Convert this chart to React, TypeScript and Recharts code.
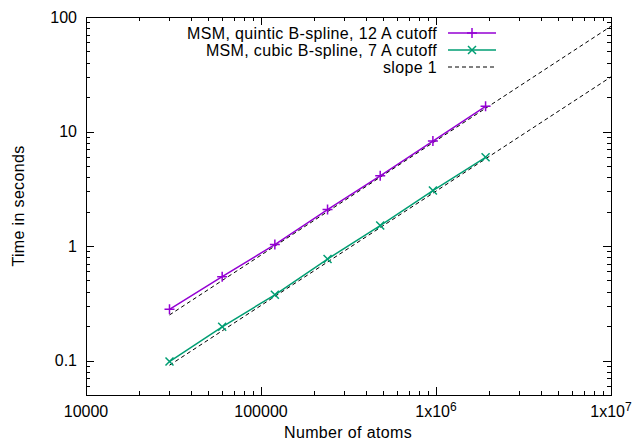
import React from "react";
import { ComposedChart, Line, XAxis, YAxis, Customized } from "recharts";

// measured points (atoms, seconds)
const atoms = [30000, 60000, 120000, 240000, 480000, 960000, 1920000];
const quinticTimes = [0.28, 0.54, 1.03, 2.08, 4.1, 8.25, 16.6];
const cubicTimes = [0.098, 0.197, 0.375, 0.77, 1.51, 3.05, 5.95];

// slope 1 reference lines, end points
const slopeAtoms = [30000, 10000000];
const quinticSlope = [0.25, 83];
const cubicSlope = [0.091, 30];

const xMajor = [10000, 100000, 1000000, 10000000];
const xLabels = ["10000", "100000", "1x10^6", "1x10^7"];
const yMajor = [0.1, 1, 10, 100];
const yLabels = ["0.1", "1", "10", "100"];

const X_DOMAIN = [10000, 10000000];
const Y_DOMAIN = [0.05, 100];

const FONT = '"Liberation Sans", Arial, sans-serif';
const PURPLE = "#9400d3";
const GREEN = "#009e73";

// plot box, follows from the chart margins and axis sizes below
const PLOT = { left: 86, right: 611, top: 17, bottom: 395 };
const TICK_OFF = 8; // tickSize + tickMargin

function minorTicks(start: number, end: number, lo: number, hi: number) {
  const out: number[] = [];
  for (let d = start; d < end; d *= 10) {
    for (let m = 2; m <= 9; m++) {
      const v = d * m;
      if (v > lo && v < hi) out.push(v);
    }
  }
  return out;
}

const xMinor = minorTicks(10000, 10000000, X_DOMAIN[0], X_DOMAIN[1]);
const yMinor = minorTicks(0.01, 100, Y_DOMAIN[0], Y_DOMAIN[1]);

const toPoints = (ys: number[], xs: number[]) => xs.map((x, i) => ({ x, y: ys[i] }));
const quinticData = toPoints(quinticTimes, atoms);
const cubicData = toPoints(cubicTimes, atoms);
const quinticSlopeData = toPoints(quinticSlope, slopeAtoms);
const cubicSlopeData = toPoints(cubicSlope, slopeAtoms);

// same log mapping the axes use, for the gnuplot style inward ticks on all four sides
const lg = Math.log10;
const sx = (v: number) =>
  PLOT.left + ((lg(v) - lg(X_DOMAIN[0])) / (lg(X_DOMAIN[1]) - lg(X_DOMAIN[0]))) * (PLOT.right - PLOT.left);
const sy = (v: number) =>
  PLOT.bottom - ((lg(v) - lg(Y_DOMAIN[0])) / (lg(Y_DOMAIN[1]) - lg(Y_DOMAIN[0]))) * (PLOT.bottom - PLOT.top);

function XTick(props: any) {
  const x = Number(props.x);
  const axisY = Number(props.y) - TICK_OFF;
  const idx = xMajor.indexOf(props.payload.value);
  if (idx < 0) return <g />;
  const [base, exp] = xLabels[idx].split("^");
  return (
    <text x={x} y={axisY + 22} textAnchor="middle" fontFamily={FONT} fontSize={16} fill="#000">
      {base}
      {exp && (
        <tspan dy={-6} fontSize={12}>
          {exp}
        </tspan>
      )}
    </text>
  );
}

function YTick(props: any) {
  const axisX = Number(props.x) + TICK_OFF;
  const y = Number(props.y);
  const idx = yMajor.indexOf(props.payload.value);
  if (idx < 0) return <g />;
  return (
    <text x={axisX - 9} y={y + 5.5} textAnchor="end" fontFamily={FONT} fontSize={16} fill="#000">
      {yLabels[idx]}
    </text>
  );
}

function PlusMark({ cx, cy, color }: { cx: number; cy: number; color: string }) {
  return <path d={`M${cx - 5},${cy}h10M${cx},${cy - 5}v10`} stroke={color} strokeWidth={1.5} fill="none" />;
}

function CrossMark({ cx, cy, color }: { cx: number; cy: number; color: string }) {
  return (
    <path d={`M${cx - 4},${cy - 4}l8,8M${cx - 4},${cy + 4}l8,-8`} stroke={color} strokeWidth={1.5} fill="none" />
  );
}

const legendRows = [
  { label: "MSM, quintic B-spline, 12 A cutoff", color: PURPLE, mark: "plus" },
  { label: "MSM, cubic B-spline, 7 A cutoff", color: GREEN, mark: "cross" },
  { label: "slope 1", color: "#000", mark: "dash" },
];

// border + inward ticks, drawn in their own layer on top of the chart
function FrameLayer() {
  let d = "";
  const xs = [...xMajor.map((v) => [v, 8]), ...xMinor.map((v) => [v, 4])];
  const ys = [...yMajor.map((v) => [v, 8]), ...yMinor.map((v) => [v, 4])];
  xs.forEach(([v, len]) => {
    const x = Math.round(sx(v)) + 0.5;
    d += `M${x},${PLOT.bottom}V${PLOT.bottom - len}M${x},${PLOT.top}V${PLOT.top + len}`;
  });
  ys.forEach(([v, len]) => {
    const y = Math.round(sy(v)) + 0.5;
    d += `M${PLOT.left},${y}H${PLOT.left + len}M${PLOT.right},${y}H${PLOT.right - len}`;
  });
  return (
    <svg
      width={636}
      height={444}
      style={{ position: "absolute", left: 0, top: 0, pointerEvents: "none", zIndex: 2 }}
    >
      <path d={d} stroke="#000" strokeWidth={1} fill="none" />
      <rect
        x={PLOT.left + 0.5}
        y={PLOT.top + 0.5}
        width={PLOT.right - PLOT.left}
        height={PLOT.bottom - PLOT.top}
        stroke="#000"
        strokeWidth={1}
        fill="none"
      />
    </svg>
  );
}

function Overlay() {
  return (
    <g fontFamily={FONT} fontSize={16} fill="#000" letterSpacing={0.35}>
      {legendRows.map((r, i) => {
        const y = 33 + i * 17;
        return (
          <g key={r.label}>
            <text x={437} y={y + 5.5} textAnchor="end">
              {r.label}
            </text>
            <path
              d={`M448,${y}H496`}
              stroke={r.color}
              strokeWidth={r.mark === "dash" ? 1 : 1.5}
              strokeDasharray={r.mark === "dash" ? "4 3" : undefined}
              fill="none"
            />
            {r.mark === "plus" && <PlusMark cx={472} cy={y} color={r.color} />}
            {r.mark === "cross" && <CrossMark cx={472} cy={y} color={r.color} />}
          </g>
        );
      })}
      <text x={348} y={438} textAnchor="middle">
        Number of atoms
      </text>
      <text x={24} y={206} textAnchor="middle" transform="rotate(-90 24 206)">
        Time in seconds
      </text>
    </g>
  );
}

export default function App() {
  return (
    <div style={{ position: "absolute", left: 0, top: 0, width: 636, height: 444 }}>
      <ComposedChart width={636} height={444} margin={{ top: 17, right: 25, bottom: 0, left: 0 }}>
        <XAxis
          xAxisId="bottom"
          dataKey="x"
          type="number"
          scale="log"
          domain={X_DOMAIN}
          allowDataOverflow
          ticks={xMajor}
          interval={0}
          tickSize={6}
          tickMargin={2}
          tickLine={false}
          axisLine={false}
          height={49}
          tick={(p: any) => <XTick {...p} />}
        />
        <YAxis
          yAxisId="left"
          type="number"
          scale="log"
          domain={Y_DOMAIN}
          allowDataOverflow
          ticks={yMajor}
          interval={0}
          tickSize={6}
          tickMargin={2}
          tickLine={false}
          axisLine={false}
          width={86}
          tick={(p: any) => <YTick {...p} />}
        />
        <Line
          data={quinticData}
          dataKey="y"
          xAxisId="bottom"
          yAxisId="left"
          type="linear"
          stroke={PURPLE}
          strokeWidth={1.5}
          isAnimationActive={false}
          dot={(p: any) => <PlusMark key={p.index} cx={p.cx} cy={p.cy} color={PURPLE} />}
        />
        <Line
          data={cubicData}
          dataKey="y"
          xAxisId="bottom"
          yAxisId="left"
          type="linear"
          stroke={GREEN}
          strokeWidth={1.5}
          isAnimationActive={false}
          dot={(p: any) => <CrossMark key={p.index} cx={p.cx} cy={p.cy} color={GREEN} />}
        />
        <Line
          data={quinticSlopeData}
          dataKey="y"
          xAxisId="bottom"
          yAxisId="left"
          type="linear"
          stroke="#000"
          strokeWidth={1}
          strokeDasharray="4 3"
          dot={false}
          isAnimationActive={false}
        />
        <Line
          data={cubicSlopeData}
          dataKey="y"
          xAxisId="bottom"
          yAxisId="left"
          type="linear"
          stroke="#000"
          strokeWidth={1}
          strokeDasharray="4 3"
          dot={false}
          isAnimationActive={false}
        />
        <Customized component={<Overlay />} />
      </ComposedChart>
      <FrameLayer />
    </div>
  );
}
